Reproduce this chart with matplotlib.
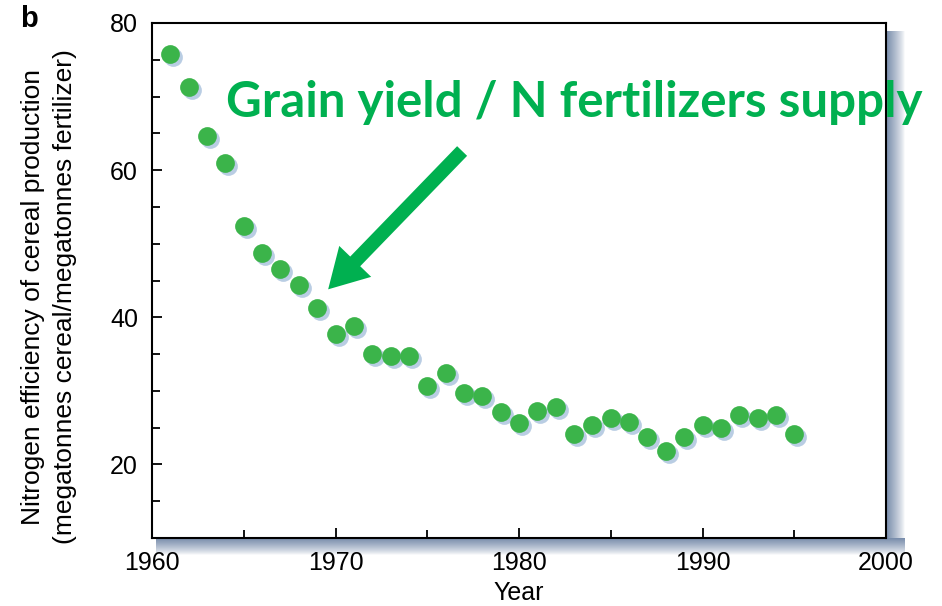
import numpy as np
import matplotlib.pyplot as plt
import matplotlib.transforms as mtransforms
from matplotlib.ticker import MultipleLocator

plt.rcParams['font.family'] = ['Liberation Sans', 'DejaVu Sans']

# data
years = np.arange(1961, 1996)
efficiency = [75.8, 71.3, 64.6, 61.0, 52.4, 48.7, 46.5, 44.4, 41.2, 37.7,
              38.8, 35.0, 34.8, 34.7, 30.7, 32.4, 29.7, 29.3, 27.1, 25.6,
              27.2, 27.8, 24.1, 25.4, 26.3, 25.7, 23.7, 21.8, 23.7, 25.4,
              24.9, 26.7, 26.3, 26.7, 24.2]

annot_text = "Grain yield / N fertilizers supply"
ylabel_1 = "Nitrogen efficiency of cereal production"
ylabel_2 = "(megatonnes cereal/megatonnes fertilizer)"

W, H = 942, 606
fig = plt.figure(figsize=(W / 100, H / 100), dpi=100)

# axes box in pixel coords
x0, x1, ytop, ybot = 152, 886, 23, 538
ax = fig.add_axes([x0 / W, 1 - ybot / H, (x1 - x0) / W, (ybot - ytop) / H])
ax.set_zorder(2)

# drop shadow of the frame (gradient), drawn behind the axes
sh = fig.add_axes([0, 0, 1, 1], zorder=0)
sh.axis('off')
grad = np.linspace(1, 0, 64)
dark = np.array([0.47, 0.55, 0.67])
def shade(a):
    return np.clip(1 - a[..., None] * (1 - dark), 0, 1)
img_r = shade(np.tile(grad ** 0.8, (2, 1)))
img_b = shade(np.tile(grad[:, None] ** 0.8, (1, 2)))
sh.imshow(img_r, extent=[x1, x1 + 19, ybot + 17, ytop + 8], aspect='auto', interpolation='bilinear')
sh.imshow(img_b, extent=[x0 + 4, x1 + 19, ybot + 17, ybot], aspect='auto', interpolation='bilinear')
sh.set_xlim(0, W)
sh.set_ylim(H, 0)

ax.set_xlim(1960, 2000)
ax.set_ylim(10, 80)
ax.xaxis.set_major_locator(MultipleLocator(10))
ax.xaxis.set_minor_locator(MultipleLocator(5))
ax.yaxis.set_major_locator(MultipleLocator(20))
ax.yaxis.set_minor_locator(MultipleLocator(5))
ax.tick_params(which='both', direction='in', width=1.3, labelsize=18, color='black')
ax.tick_params(axis='x', pad=9)
ax.tick_params(axis='y', pad=10)
ax.tick_params(which='major', length=7.5)
ax.tick_params(which='minor', length=5.5)
for s in ax.spines.values():
    s.set_linewidth(1.5)

# point shadows then points
shadow_tr = mtransforms.offset_copy(ax.transData, fig=fig, x=3, y=-3, units='dots')
ax.plot(years, efficiency, 'o', ms=13.5, color='#b9cde3', mec='none', transform=shadow_tr, zorder=3)
ax.plot(years, efficiency, 'o', ms=13.5, color='#3bb44a', mec='none', zorder=4)

ax.set_xlabel("Year", fontsize=18, labelpad=5)

ax.annotate("", xy=(1969.6, 43.8), xytext=(1976.9, 62.6),
            arrowprops=dict(arrowstyle="simple,tail_width=0.5,head_width=1.6,head_length=1.4",
                            mutation_scale=20, color='#00b050', lw=0, shrinkA=0, shrinkB=0),
            zorder=5)

fig.text(226 / W, 1 - 117 / H, annot_text, color='#00b050', fontsize=35.5,
         fontweight='bold', family=['Lato', 'DejaVu Sans'], ha='left', va='baseline', zorder=10)

fig.text(20 / W, 1 - 19 / H, "b", fontsize=21, fontweight='bold', ha='left', va='center')
fig.text(33 / W, 1 - 297 / H, ylabel_1, rotation=90, fontsize=19, ha='center', va='center')
fig.text(65 / W, 1 - 297 / H, ylabel_2, rotation=90, fontsize=19, ha='center', va='center')

fig.savefig("out.png", dpi=100)
